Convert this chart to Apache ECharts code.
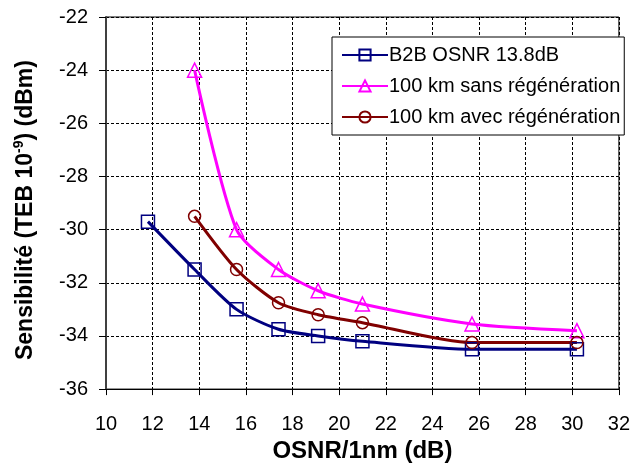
<!DOCTYPE html>
<html>
<head>
<meta charset="utf-8">
<script src="https://cdn.jsdelivr.net/npm/echarts@6/dist/echarts.min.js"></script>
<style>
html,body{margin:0;padding:0;background:#fff;}
#chart{width:633px;height:468px;}
</style>
</head>
<body>
<div id="chart"></div>
<script>
// OSNR values (dB) measured for each curve
const osnrB2B = [11.8, 13.8, 15.6, 17.4, 19.1, 21.0, 25.7, 30.2];
const osnr100 = [13.8, 15.6, 17.4, 19.1, 21.0, 25.7, 30.2];

// Sensitivity at BER 1e-9 (dBm)
const sensB2B = [-29.7, -31.5, -33.0, -33.75, -34.0, -34.2, -34.5, -34.5];
const sensSansRegen = [-24.0, -30.0, -31.5, -32.3, -32.8, -33.55, -33.8];
const sensAvecRegen = [-29.5, -31.5, -32.75, -33.2, -33.5, -34.25, -34.25];

const seriesNames = ['B2B OSNR 13.8dB', '100 km sans régénération', '100 km avec régénération'];
const seriesColors = ['#000080', '#FF00FF', '#800000'];

const xTicks = [10, 12, 14, 16, 18, 20, 22, 24, 26, 28, 30, 32];
const yTicks = [-36, -34, -32, -30, -28, -26, -24, -22];

const pairs = (xs, ys) => xs.map((x, i) => [x, ys[i]]);

const FONT = 'Liberation Sans, Arial, sans-serif';

function makeSeries(name, data, symbol, color, size) {
  return {
    name: name,
    type: 'line',
    data: data,
    smooth: 0.25,
    symbol: symbol,
    symbolSize: size,
    showAllSymbol: true,
    lineStyle: { color: color, width: 3 },
    itemStyle: { color: 'rgba(255,255,255,0)', borderColor: color, borderWidth: 1.5 },
    z: 3
  };
}

const chart = echarts.init(document.getElementById('chart'), null, { renderer: 'canvas' });
chart.setOption({
  animation: false,
  backgroundColor: '#fff',
  textStyle: { fontFamily: FONT },
  grid: { left: 106, top: 17, width: 514, height: 374, show: true, borderColor: '#000', borderWidth: 1, backgroundColor: 'transparent' },
  legend: {
    orient: 'vertical',
    left: 332,
    top: 37,
    padding: [8, 4, 8, 9],
    itemGap: 11,
    itemWidth: 46,
    itemHeight: 14,
    borderColor: '#000',
    borderWidth: 1,
    borderRadius: 0,
    backgroundColor: '#fff',
    textStyle: { fontFamily: FONT, fontSize: 20, color: '#000', lineHeight: 20, padding: [0, 0, 0, -4] },
    data: seriesNames.map(n => ({ name: n }))
  },
  xAxis: {
    type: 'value',
    min: xTicks[0],
    max: xTicks[xTicks.length - 1],
    interval: 2,
    name: 'OSNR/1nm (dB)',
    nameLocation: 'middle',
    nameGap: 49,
    nameTextStyle: { fontFamily: FONT, fontSize: 24, fontWeight: 'bold', color: '#000' },
    axisLine: { show: true, lineStyle: { color: '#000', width: 1 } },
    axisTick: { show: true, length: 6, lineStyle: { color: '#000' } },
    axisLabel: { fontFamily: FONT, fontSize: 20, color: '#000', margin: 25 },
    splitLine: { show: true, lineStyle: { color: '#000', type: [3, 2], width: 1 } }
  },
  yAxis: {
    type: 'value',
    min: yTicks[0],
    max: yTicks[yTicks.length - 1],
    interval: 2,
    name: '{m|Sensibilité (TEB 10}{s|-9}{m|) (dBm)}',
    nameLocation: 'middle',
    nameGap: 66,
    nameTextStyle: {
      padding: [0, 14, 0, 0],
      rich: {
        m: { fontFamily: FONT, fontSize: 23, fontWeight: 'bold', color: '#000', lineHeight: 28 },
        s: { fontFamily: FONT, fontSize: 14, fontWeight: 'bold', color: '#000', verticalAlign: 'top', lineHeight: 28, padding: [0, 0, 12, 0] }
      }
    },
    axisLine: { show: true, lineStyle: { color: '#404040', width: 2 } },
    axisTick: { show: true, length: 7, inside: false, lineStyle: { color: '#000' } },
    axisLabel: { fontFamily: FONT, fontSize: 20, color: '#000', margin: 18 },
    splitLine: { show: true, lineStyle: { color: '#000', type: [3, 2], width: 1 } }
  },
  series: [
    makeSeries(seriesNames[0], pairs(osnrB2B, sensB2B), 'rect', seriesColors[0], 13),
    makeSeries(seriesNames[1], pairs(osnr100, sensSansRegen), 'triangle', seriesColors[1], 14),
    makeSeries(seriesNames[2], pairs(osnr100, sensAvecRegen), 'circle', seriesColors[2], 12)
  ]
});
</script>
</body>
</html>
